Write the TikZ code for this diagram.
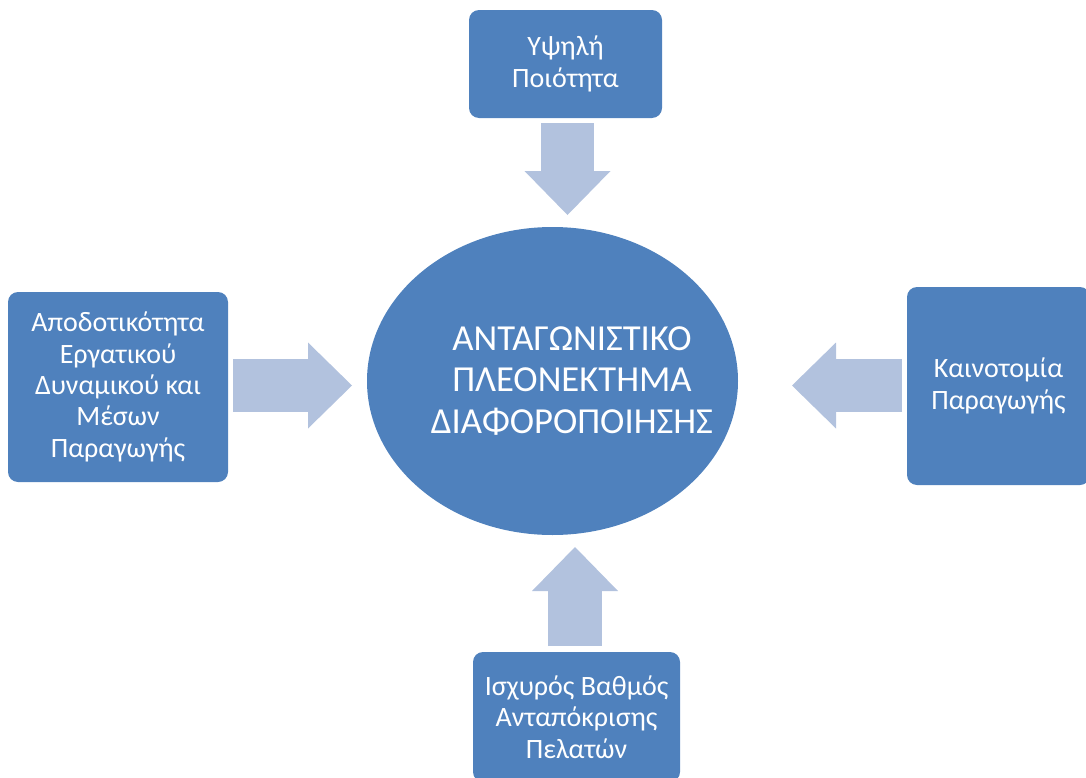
\documentclass[tikz,border=0pt]{standalone}
\usepackage{fontspec}
\setmainfont{Carlito}
\usetikzlibrary{arrows.meta,shapes.geometric}

\definecolor{boxblue}{HTML}{4F81BD}
\definecolor{arrowblue}{HTML}{B2C2DE}

\tikzset{
  factor/.style={rectangle,rounded corners=7.5pt,fill=boxblue,text=white,
    align=center,inner sep=0pt,font=\fontsize{21}{23.5}\selectfont},
  core/.style={ellipse,fill=boxblue,inner sep=0pt,
    minimum width=278.25pt,minimum height=231pt},
  coretext/.style={text=white,align=center,inner sep=0pt,
    font=\fontsize{27.5}{31}\selectfont},
  flow/.style={draw=arrowblue,line width=40pt,
    -{Triangle[length=33pt,width=64.5pt,line width=0pt]}}
}

\begin{document}
\begin{tikzpicture}[x=0.75pt,y=-0.75pt]

      \useasboundingbox (0,0) rectangle (1086,778);

      \node[core] (advantage) at (552.5,381) {};
      \node[coretext] (advantage-text) at (572,381)
        {ΑΝΤΑΓΩΝΙΣΤΙΚΟ\\ΠΛΕΟΝΕΚΤΗΜΑ\\ΔΙΑΦΟΡΟΠΟΙΗΣΗΣ};

      \begin{scope}[every node/.style={factor}]
        \node[minimum width=144.75pt,minimum height=81pt] (quality) at (565.5,64)
          {Υψηλή\\Ποιότητα};
        \node[minimum width=165pt,minimum height=142.5pt] (efficiency) at (118,387)
          {Αποδοτικότητα\\Εργατικού\\Δυναμικού και\\Μέσων\\Παραγωγής};
        \node[minimum width=137.25pt,minimum height=148.5pt] (innovation) at (998.5,386)
          {Καινοτομία\\Παραγωγής};
        \node[minimum width=155.25pt,minimum height=97.5pt] (response) at (576.5,717)
          {Ισχυρός Βαθμός\\Ανταπόκρισης\\Πελατών};
      \end{scope}

      % ends of the block arrows
      \coordinate (quality-tail)    at (567.5,123);
      \coordinate (quality-tip)     at (567.5,215);
      \coordinate (efficiency-tail) at (233,385.5);
      \coordinate (efficiency-tip)  at (352,385.5);
      \coordinate (innovation-tail) at (902,385.5);
      \coordinate (innovation-tip)  at (792,385.5);
      \coordinate (response-tail)   at (575,646);
      \coordinate (response-tip)    at (575,547);

      \begin{scope}[every edge/.style={flow}]
        \path (quality-tail)    edge (quality-tip);
        \path (efficiency-tail) edge (efficiency-tip);
        \path (innovation-tail) edge (innovation-tip);
        \path (response-tail)   edge (response-tip);
      \end{scope}

    \end{tikzpicture}
\end{document}
